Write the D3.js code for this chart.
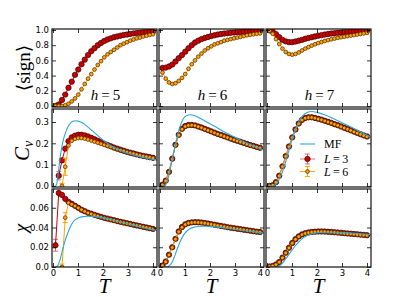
<!DOCTYPE html>
<html>
<head>
<meta charset="utf-8">
<script src="https://cdn.jsdelivr.net/npm/d3@7"></script>
<style>
  html, body { margin: 0; padding: 0; background: #fff; }
  svg { display: block; }
  .tick text { font-family: "DejaVu Sans", sans-serif; font-size: 8.5px; fill: #000; }
  .tick line { stroke: #000; stroke-width: 0.8; }
  .serif { font-family: "Liberation Serif", "DejaVu Serif", serif; fill: #000; }
</style>
</head>
<body>
<div id="chart"></div>
<script>
// temperature grid of the simulations, and of the mean-field curves
const T = [0.10,0.23,0.36,0.49,0.62,0.75,0.88,1.01,1.14,1.27,1.40,1.53,1.66,1.79,1.92,2.05,
           2.18,2.31,2.44,2.57,2.70,2.83,2.96,3.09,3.22,3.35,3.48,3.61,3.74,3.87,4.00];
const Tmf = [0.1,0.15,0.2,0.25,0.3,0.35,0.4,0.5,0.6,0.7,0.8,0.9,1.0,1.1,1.2,1.4,1.6,1.8,2.0,2.3,2.6,3.0,3.4,3.8,4.2];

const hValues = [5, 6, 7];

// <sign>
const sign_h5_L3 = [0.00,0.02,0.08,0.15,0.24,0.32,0.41,0.48,0.55,0.61,0.67,0.72,0.76,0.80,0.83,0.855,
                    0.875,0.89,0.905,0.915,0.925,0.935,0.94,0.948,0.955,0.96,0.965,0.97,0.973,0.977,0.98];
const sign_h5_L6 = [0,0,0,0.01,0.03,0.06,0.10,0.15,0.22,0.29,0.36,0.42,0.48,0.54,0.59,0.64,
                    0.68,0.71,0.74,0.77,0.80,0.82,0.84,0.86,0.875,0.89,0.90,0.915,0.925,0.935,0.945];
const sign_h6_L3 = [0.50,0.505,0.52,0.545,0.585,0.63,0.67,0.715,0.76,0.80,0.835,0.86,0.88,0.895,0.908,0.92,
                    0.93,0.94,0.947,0.953,0.958,0.963,0.967,0.971,0.974,0.977,0.98,0.982,0.984,0.986,0.988];
const sign_h6_L6 = [0.44,0.36,0.31,0.29,0.30,0.33,0.37,0.42,0.49,0.55,0.60,0.65,0.69,0.73,0.76,0.785,
                    0.81,0.825,0.84,0.86,0.87,0.88,0.89,0.90,0.91,0.92,0.93,0.937,0.944,0.95,0.955];
const sign_h7_L3 = [0.995,0.98,0.945,0.905,0.87,0.85,0.84,0.84,0.848,0.86,0.87,0.885,0.895,0.905,0.915,0.925,
                    0.932,0.94,0.947,0.953,0.958,0.963,0.967,0.971,0.975,0.978,0.981,0.984,0.986,0.988,0.99];
const sign_h7_L6 = [0.99,0.95,0.88,0.815,0.755,0.71,0.685,0.675,0.685,0.705,0.73,0.755,0.775,0.795,0.812,0.828,
                    0.842,0.855,0.867,0.877,0.887,0.896,0.905,0.912,0.919,0.926,0.933,0.94,0.948,0.955,0.962];

// C_v
const cv_h5_L3 = [null,0.048,0.12,0.175,0.21,0.228,0.236,0.24,0.24,0.237,0.232,0.226,0.219,0.212,0.205,0.198,
                  0.192,0.186,0.18,0.175,0.17,0.165,0.16,0.156,0.152,0.148,0.144,0.141,0.138,0.135,0.132];
const cv_h5_L6 = [null,null,0.0,0.09,0.19,0.212,0.221,0.225,0.225,0.222,0.218,0.213,0.208,0.203,0.198,0.193,
                  0.188,0.183,0.178,0.173,0.168,0.164,0.159,0.155,0.151,0.147,0.143,0.14,0.137,0.134,0.131];
const cv_h6_L3 = [0.006,0.025,0.066,0.128,0.193,0.24,0.268,0.281,0.286,0.286,0.284,0.279,0.274,0.268,0.262,0.256,
                  0.25,0.244,0.239,0.233,0.228,0.222,0.217,0.212,0.207,0.202,0.197,0.192,0.188,0.183,0.179];
const cv_h6_L6 = [0.005,0.024,0.065,0.126,0.191,0.238,0.266,0.279,0.284,0.285,0.283,0.278,0.273,0.267,0.261,0.255,
                  0.249,0.243,0.238,0.232,0.227,0.221,0.216,0.211,0.206,0.201,0.196,0.191,0.187,0.182,0.178];
const cv_h7_L3 = [0.0,0.003,0.018,0.048,0.092,0.14,0.185,0.228,0.265,0.293,0.31,0.319,0.322,0.322,0.319,0.315,
                  0.311,0.306,0.301,0.296,0.29,0.285,0.279,0.273,0.267,0.261,0.255,0.249,0.243,0.237,0.232];
const cv_h7_L6 = [0.0,0.003,0.017,0.047,0.091,0.139,0.184,0.227,0.264,0.292,0.309,0.318,0.321,0.321,0.318,0.314,
                  0.31,0.305,0.3,0.295,0.289,0.284,0.278,0.272,0.266,0.26,0.254,0.248,0.242,0.236,0.231];

// chi
const chi_h5_L3 = [0.022,0.075,0.073,0.069,0.066,0.064,0.062,0.060,0.058,0.0565,0.055,0.054,0.0528,0.0518,0.0508,0.0498,
                   0.049,0.0482,0.0474,0.0466,0.0458,0.045,0.0443,0.0436,0.0428,0.0421,0.0414,0.0407,0.040,0.0393,0.0386];
const chi_h5_L6 = [null,null,0.0,0.050,0.065,0.0635,0.0618,0.0598,0.058,0.0563,0.0548,0.0537,0.0525,0.0515,0.0505,0.0496,
                   0.0488,0.048,0.0472,0.0464,0.0456,0.0448,0.0441,0.0434,0.0427,0.042,0.0413,0.0406,0.0399,0.0392,0.0385];
const chi_h6_L3 = [0.0015,0.0055,0.0125,0.020,0.0285,0.036,0.0405,0.0432,0.0446,0.0452,0.0454,0.0453,0.045,0.0445,0.0440,0.0434,
                   0.0428,0.0422,0.0416,0.0410,0.0404,0.0398,0.0393,0.0388,0.0383,0.0378,0.0373,0.0368,0.0363,0.0358,0.0354];
const chi_h6_L6 = [0.0014,0.0053,0.0122,0.0197,0.0282,0.0357,0.0402,0.043,0.0444,0.045,0.0452,0.0451,0.0448,0.0443,0.0438,0.0432,
                   0.0426,0.042,0.0414,0.0408,0.0402,0.0396,0.0391,0.0386,0.0381,0.0376,0.0371,0.0366,0.0361,0.0356,0.0352];
const chi_h7_L3 = [0.0005,0.001,0.0025,0.005,0.0095,0.0145,0.0195,0.0243,0.0282,0.031,0.033,0.0342,0.035,0.0355,0.0358,0.036,
                   0.036,0.0359,0.0357,0.0355,0.0352,0.0349,0.0346,0.0343,0.034,0.0337,0.0334,0.0331,0.0328,0.0325,0.0322];
const chi_h7_L6 = [0.0005,0.001,0.0024,0.0049,0.0093,0.0143,0.0193,0.0241,0.028,0.0308,0.0328,0.034,0.0348,0.0353,0.0356,0.0358,
                   0.0358,0.0357,0.0355,0.0353,0.035,0.0347,0.0344,0.0341,0.0338,0.0335,0.0332,0.0329,0.0326,0.0323,0.032];

// mean field
const mfCv_h5 = [0,0.01,0.05,0.10,0.145,0.18,0.21,0.25,0.278,0.295,0.303,0.306,0.304,0.30,0.294,0.276,0.256,0.235,0.215,0.19,0.172,0.153,0.14,0.129,0.12];
const mfCv_h6 = [0,0,0.002,0.01,0.025,0.048,0.075,0.13,0.185,0.238,0.278,0.308,0.325,0.332,0.334,0.329,0.318,0.305,0.292,0.272,0.252,0.228,0.205,0.185,0.167];
const mfCv_h7 = [0,0,0,0.001,0.003,0.007,0.013,0.035,0.06,0.095,0.135,0.175,0.215,0.252,0.283,0.325,0.345,0.349,0.345,0.334,0.319,0.297,0.274,0.25,0.226];
const mfChi_h5 = [0,0.0005,0.002,0.005,0.009,0.014,0.019,0.028,0.035,0.041,0.0455,0.048,0.0497,0.0505,0.051,0.0514,0.0513,0.0508,0.05,0.0483,0.0463,0.0438,0.0412,0.0388,0.0366];
const mfChi_h6 = [0,0,0,0,0.0003,0.0008,0.0018,0.0055,0.012,0.019,0.0253,0.0305,0.0343,0.037,0.0388,0.0405,0.0412,0.0413,0.0411,0.0404,0.0395,0.0382,0.0369,0.0356,0.0344];
const mfChi_h7 = [0,0,0,0,0,0,0.0003,0.0012,0.0035,0.0065,0.01,0.0135,0.017,0.0205,0.0235,0.0285,0.0318,0.0337,0.0347,0.0352,0.0352,0.0348,0.0342,0.0335,0.0327];

// error bars (only the first few low-T points carry visible ones)
const cvErr_h5_L3 = [0, 0.02, 0.01];
const cvErr_h5_L6 = [0, 0, 0.012, 0.04];
const chiErr_h5_L3 = [0.006];
const chiErr_h5_L6 = [0, 0, 0.003, 0.005];

// ticks
const xTicks = [0, 1, 2, 3, 4];
const signTicks = [0, 0.2, 0.4, 0.6, 0.8, 1.0];
const signTickLabels = ["0.0", "0.2", "0.4", "0.6", "0.8", "1.0"];
const cvTicks = [0, 0.1, 0.2, 0.3];
const cvTickLabels = ["0.0", "0.1", "0.2", "0.3"];
const chiTicks = [0, 0.02, 0.04, 0.06];
const chiTickLabels = ["0.0", "0.02", "0.04", "0.06"];

const W = 415, H = 297;
const RED = "#cc0000", ORANGE = "#ffa500", BLUE = "#2aa8dc";

const colLeft = [52, 159, 266];
const rowTop = [29, 109, 189];
const pw = 105, ph = 78;

const rows = [
  { dom: [-0.013, 1.013], ticks: signTicks, labels: signTickLabels,
    L3: [sign_h5_L3, sign_h6_L3, sign_h7_L3], L6: [sign_h5_L6, sign_h6_L6, sign_h7_L6], mf: null,
    e3: [[], [], []], e6: [[], [], []] },
  { dom: [-0.005, 0.361], ticks: cvTicks, labels: cvTickLabels,
    L3: [cv_h5_L3, cv_h6_L3, cv_h7_L3], L6: [cv_h5_L6, cv_h6_L6, cv_h7_L6], mf: [mfCv_h5, mfCv_h6, mfCv_h7],
    e3: [cvErr_h5_L3, [], []], e6: [cvErr_h5_L6, [], []] },
  { dom: [0, 0.079], ticks: chiTicks, labels: chiTickLabels,
    L3: [chi_h5_L3, chi_h6_L3, chi_h7_L3], L6: [chi_h5_L6, chi_h6_L6, chi_h7_L6], mf: [mfChi_h5, mfChi_h6, mfChi_h7],
    e3: [chiErr_h5_L3, [], []], e6: [chiErr_h5_L6, [], []] },
];

const svg = d3.select("#chart").append("svg").attr("width", W).attr("height", H);
const defs = svg.append("defs");

function drawSeries(g, x, y, vals, errs, color, r, edge, errColor) {
  const pts = T.map((t, i) => ({ t, v: vals[i], e: errs[i] || 0 })).filter(d => d.v != null);
  const line = d3.line().x(d => x(d.t)).y(d => y(d.v));
  g.append("path").attr("d", line(pts)).attr("fill", "none")
    .attr("stroke", color).attr("stroke-width", 1);
  const eb = g.append("g").attr("stroke", errColor).attr("stroke-width", 1);
  pts.filter(d => d.e > 0).forEach(d => {
    const cx = x(d.t), y0 = y(d.v - d.e), y1 = y(d.v + d.e);
    eb.append("line").attr("x1", cx).attr("x2", cx).attr("y1", y0).attr("y2", y1);
    eb.append("line").attr("x1", cx - 2.5).attr("x2", cx + 2.5).attr("y1", y0).attr("y2", y0);
    eb.append("line").attr("x1", cx - 2.5).attr("x2", cx + 2.5).attr("y1", y1).attr("y2", y1);
  });
  g.append("g").selectAll("circle").data(pts).join("circle")
    .attr("cx", d => x(d.t)).attr("cy", d => y(d.v)).attr("r", r)
    .attr("fill", color).attr("stroke", edge).attr("stroke-width", 0.7);
}

rows.forEach((row, ri) => {
  hValues.forEach((h, ci) => {
    const left = colLeft[ci], top = rowTop[ri];
    const x = d3.scaleLinear().domain([-0.04, 4.16]).range([left, left + pw]);
    const y = d3.scaleLinear().domain(row.dom).range([top + ph, top]);
    const id = `clip-${ri}-${ci}`;
    defs.append("clipPath").attr("id", id).append("rect")
      .attr("x", left).attr("y", top).attr("width", pw).attr("height", ph);

    const g = svg.append("g").attr("clip-path", `url(#${id})`);
    drawSeries(g, x, y, row.L3[ci], row.e3[ci], RED, 2.7, "#3a0000", "rgba(204,0,0,0.55)");
    drawSeries(g, x, y, row.L6[ci], row.e6[ci], ORANGE, 1.9, "#4a2600", ORANGE);
    if (row.mf) {
      const mline = d3.line().curve(d3.curveMonotoneX).x((t) => x(t)).y((t, i) => y(row.mf[ci][i]));
      g.append("path").attr("d", mline(Tmf)).attr("fill", "none")
        .attr("stroke", BLUE).attr("stroke-width", 1.1);
    }

    // ticks on all four sides, pointing inwards
    const axL = svg.append("g").attr("transform", `translate(${left},0)`)
      .call(d3.axisLeft(y).tickValues(row.ticks).tickSize(-4).tickPadding(3)
        .tickFormat((d, i) => ci === 0 ? row.labels[i] : ""));
    const axR = svg.append("g").attr("transform", `translate(${left + pw},0)`)
      .call(d3.axisRight(y).tickValues(row.ticks).tickSize(-4).tickFormat(""));
    const axB = svg.append("g").attr("transform", `translate(0,${top + ph})`)
      .call(d3.axisBottom(x).tickValues(xTicks).tickSize(-4).tickPadding(3)
        .tickFormat(d => ri === 2 ? d : ""));
    const axT = svg.append("g").attr("transform", `translate(0,${top})`)
      .call(d3.axisTop(x).tickValues(xTicks).tickSize(-4).tickFormat(""));
    [axL, axR, axB, axT].forEach(a => a.select(".domain").remove());

    svg.append("rect").attr("x", left).attr("y", top).attr("width", pw).attr("height", ph)
      .attr("fill", "none").attr("stroke", "#111").attr("stroke-width", 1.2);

    if (ri === 0) {
      const t = svg.append("text").attr("class", "serif").attr("x", left + pw / 2 + 1).attr("y", top + 71)
        .attr("text-anchor", "middle").attr("font-size", 15);
      t.append("tspan").attr("font-style", "italic").text("h");
      t.append("tspan").text("\u2009=\u2009" + h);
    }
    if (ri === 2) {
      svg.append("text").attr("class", "serif").attr("x", left + pw / 2).attr("y", 292.5)
        .attr("text-anchor", "middle").attr("font-size", 21).attr("font-style", "italic").text("T");
    }
  });
});

// y-axis labels
svg.append("text").attr("class", "serif").attr("transform", "translate(30,68) rotate(-90)")
  .attr("text-anchor", "middle").attr("font-size", 19).text("\u27E8sign\u27E9");
const cvl = svg.append("text").attr("class", "serif").attr("transform", "translate(29,151) rotate(-90)")
  .attr("text-anchor", "middle").attr("font-size", 21);
cvl.append("tspan").attr("font-style", "italic").text("C");
cvl.append("tspan").attr("font-style", "italic").attr("font-size", 14).attr("dy", 4).text("v");
svg.append("text").attr("class", "serif").attr("transform", "translate(27,228) rotate(-90)")
  .attr("text-anchor", "middle").attr("font-size", 19).attr("font-style", "italic").text("\u03C7");

// legend (inside the C_v, h=7 panel)
const lg = svg.append("g");
const lgX = 300, lgLen = 15, lgTx = 324;
lg.append("line").attr("x1", lgX).attr("x2", lgX + lgLen).attr("y1", 144).attr("y2", 144)
  .attr("stroke", BLUE).attr("stroke-width", 1.1);
[{ y: 159, c: RED, r: 2.7, edge: "#3a0000", ec: "rgba(204,0,0,0.55)", n: 3 },
 { y: 171.5, c: ORANGE, r: 1.9, edge: "#4a2600", ec: ORANGE, n: 6 }].forEach(d => {
  const cx = lgX + lgLen / 2;
  lg.append("line").attr("x1", lgX).attr("x2", lgX + lgLen).attr("y1", d.y).attr("y2", d.y).attr("stroke", d.ec);
  lg.append("line").attr("x1", cx).attr("x2", cx).attr("y1", d.y - 5).attr("y2", d.y + 5).attr("stroke", d.ec);
  lg.append("line").attr("x1", cx - 2.5).attr("x2", cx + 2.5).attr("y1", d.y - 5).attr("y2", d.y - 5).attr("stroke", d.ec);
  lg.append("line").attr("x1", cx - 2.5).attr("x2", cx + 2.5).attr("y1", d.y + 5).attr("y2", d.y + 5).attr("stroke", d.ec);
  lg.append("circle").attr("cx", cx).attr("cy", d.y).attr("r", d.r)
    .attr("fill", d.c).attr("stroke", d.edge).attr("stroke-width", 0.7);
  const t = lg.append("text").attr("class", "serif").attr("x", lgTx).attr("y", d.y + 4).attr("font-size", 12);
  t.append("tspan").attr("font-style", "italic").text("L");
  t.append("tspan").text("\u2009=\u2009" + d.n);
});
lg.append("text").attr("class", "serif").attr("x", lgTx).attr("y", 148).attr("font-size", 12).text("MF");
</script>
</body>
</html>
